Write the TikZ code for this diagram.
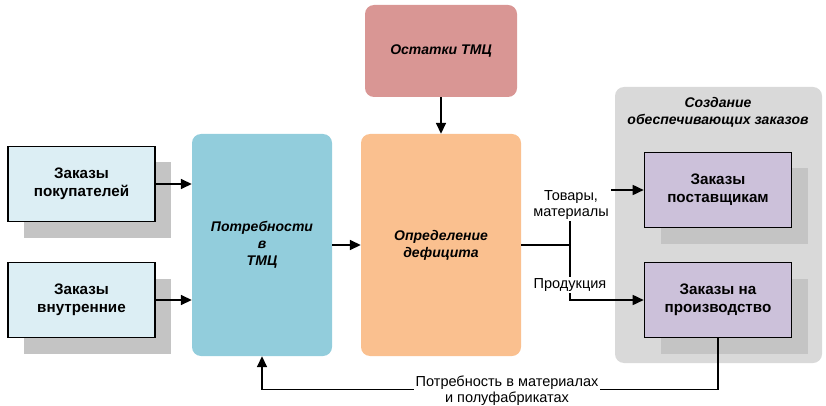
\documentclass[tikz,border=0pt]{standalone}
\usepackage{fontspec}
\setmainfont{Liberation Sans}
\usetikzlibrary{arrows.meta,shadows}

\definecolor{orderblue}{HTML}{DCEEF4}
\definecolor{needblue}{HTML}{92CDDC}
\definecolor{deficitpeach}{HTML}{FAC08F}
\definecolor{stockrose}{HTML}{D99694}
\definecolor{groupgray}{HTML}{D9D9D9}
\definecolor{shadegray}{HTML}{C4C4C4}
\definecolor{supplylilac}{HTML}{CCC1DA}

\tikzset{
  orderbox/.style={draw,line width=1.6pt,align=center,
    font=\bfseries\fontsize{15.2}{18}\selectfont,
    minimum width=147pt,minimum height=75pt,
    drop shadow={shadow xshift=16pt,shadow yshift=-16pt,fill=shadegray,opacity=1}},
  bigbox/.style={rounded corners=9pt,align=center,
    font=\bfseries\itshape\fontsize{14}{17}\selectfont},
  lbl/.style={fill=white,align=center,inner sep=2pt,
    font=\fontsize{14.5}{16}\selectfont},
  flow/.style={line width=1.6pt,-{Triangle[length=11pt,width=10pt]}}
}

\begin{document}
\begin{tikzpicture}[x=1pt,y=-1pt]
  \useasboundingbox (0,0) rectangle (826,406);

  % input orders
  \node[orderbox,fill=orderblue] (buyers) at (81.5,184) {Заказы\\покупателей};
  \node[orderbox,fill=orderblue] (internal) at (81.5,300) {Заказы\\внутренние};

  % main blocks
  \node[bigbox,fill=needblue,minimum width=140pt,minimum height=222pt] (needs) at (262,245) {Потребности\\в\\ТМЦ};
  \node[bigbox,fill=deficitpeach,minimum width=160pt,minimum height=222pt] (deficit) at (441,245) {Определение\\дефицита};
  \node[bigbox,fill=stockrose,minimum width=152pt,minimum height=92pt] (stock) at (441,51) {Остатки ТМЦ};

  % group of created orders
  \node[bigbox,fill=groupgray,minimum width=207pt,minimum height=276pt] (group) at (718.5,225) {};
  \node[bigbox,fill=none] (grouptitle) at (718,112) {Создание\\обеспечивающих заказов};
  \node[orderbox,fill=supplylilac] (suppliers) at (718,190) {Заказы\\поставщикам};
  \node[orderbox,fill=supplylilac] (production) at (718,300) {Заказы на\\производство};

  \draw[flow] (buyers.east) -- (buyers.east -| needs.west);
  \draw[flow] (internal.east) -- (internal.east -| needs.west);
  \draw[flow] (needs) -- (deficit);
  \draw[flow] (stock) -- (deficit);

  \coordinate (split) at (570,245);
  \draw[line width=1.6pt] (deficit.east |- split) -- (split);
  \draw[flow] (split) |- (suppliers.west);
  \draw[flow] (split) |- (production.west);
  \node[lbl] (goods) at (571,205) {Товары,\\материалы};
  \node[lbl] (product) at (570,285) {Продукция};

  \draw[flow] (production.south) -- ++(0,51) -| (needs.south);
  \node[lbl] (demand) at (507,391) {Потребность в материалах\\и полуфабрикатах};
\end{tikzpicture}
\end{document}
